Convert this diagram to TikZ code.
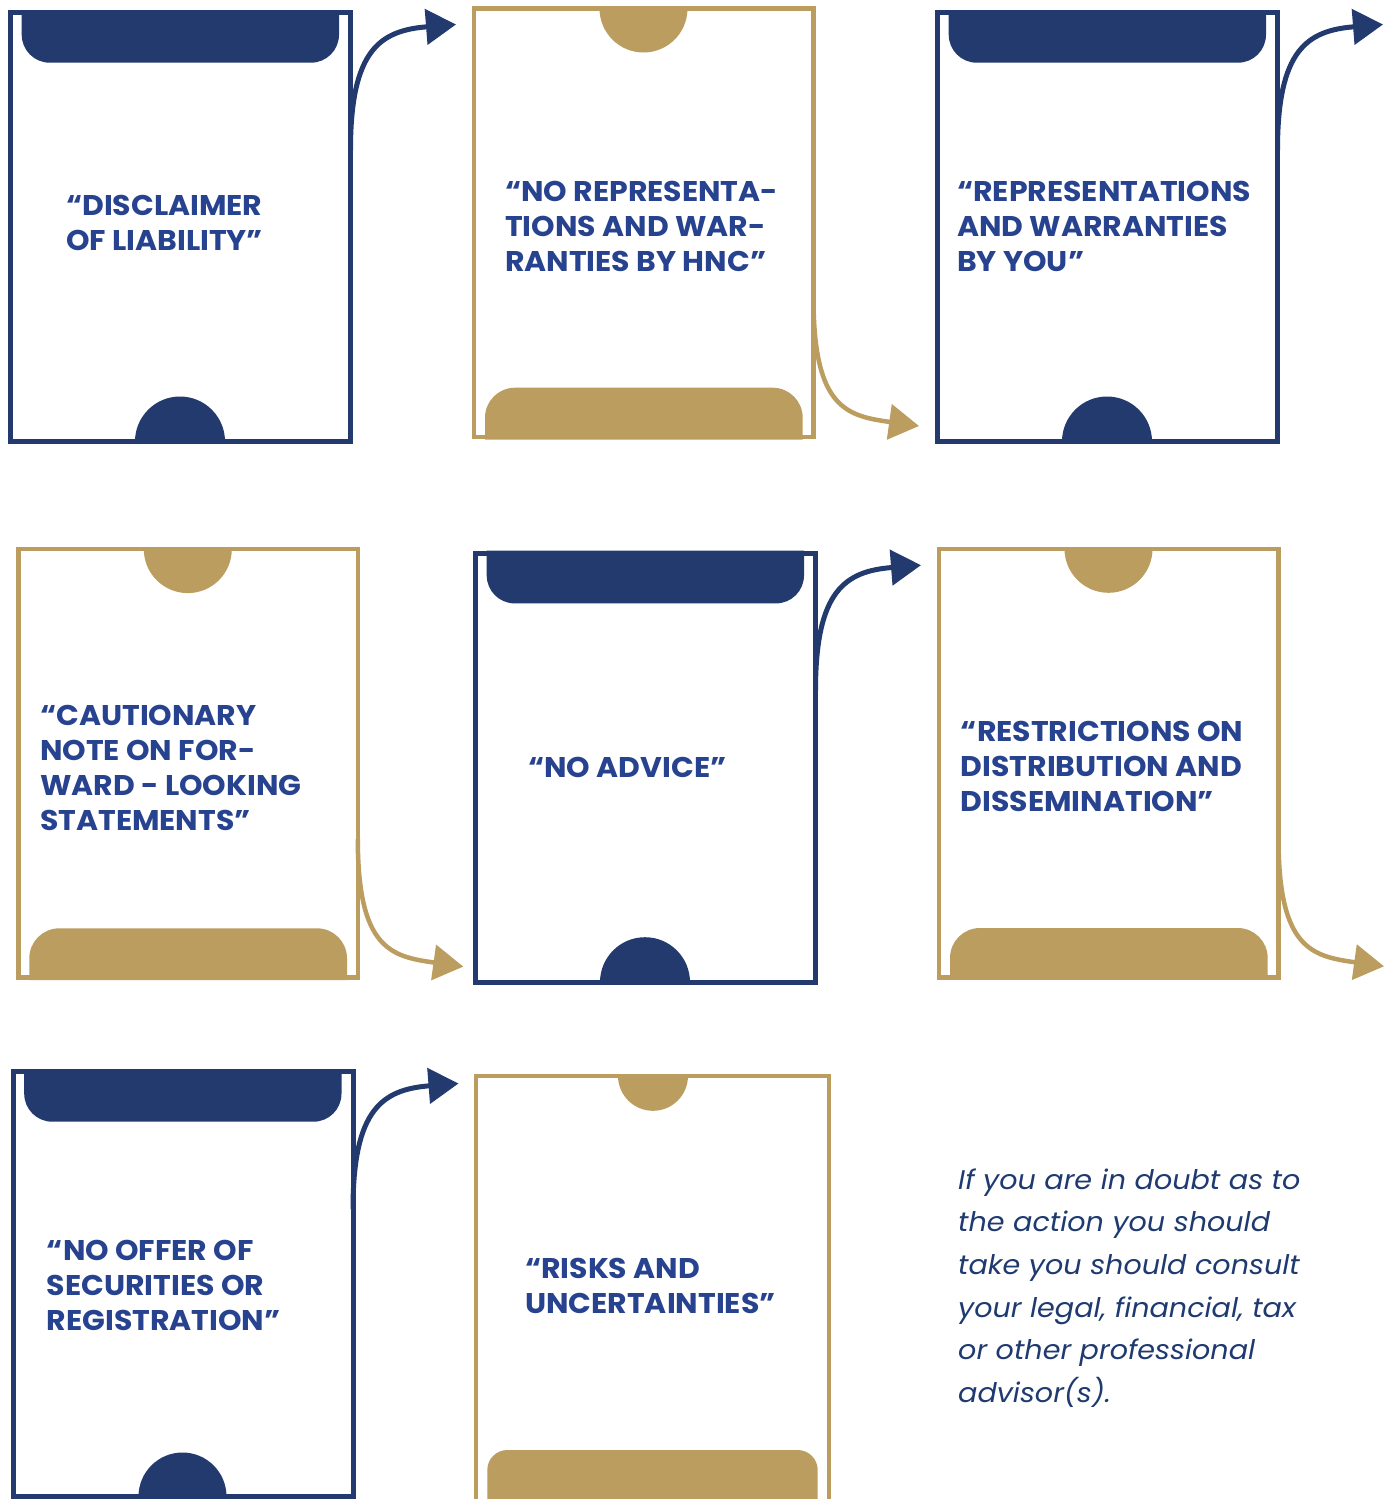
\documentclass[tikz,border=0pt]{standalone}
\usepackage{fontspec}
\setmainfont{Poppins}
\usetikzlibrary{arrows.meta,calc}
\definecolor{navy}{HTML}{233A6F}
\definecolor{gold}{HTML}{BB9E5F}
\definecolor{tblue}{HTML}{27428F}
\definecolor{iblue}{HTML}{1E3A70}
% top bar hanging from top edge, bottom corners rounded: x1,x2,ytop,ybottom,r
\newcommand\topbar[6]{\fill[#1] (#2,#4) -- (#2,#5-#6) arc[start angle=180,end angle=270,radius=#6 pt] -- (#3-#6,#5) arc[start angle=270,end angle=360,radius=#6 pt] -- (#3,#4) -- cycle;}
% bottom bar standing on bottom edge, top corners rounded: x1,x2,ytop,ybottom,r
\newcommand\botbar[6]{\fill[#1] (#2,#5) -- (#2,#4+#6) arc[start angle=180,end angle=90,radius=#6 pt] -- (#3-#6,#4) arc[start angle=90,end angle=0,radius=#6 pt] -- (#3,#5) -- cycle;}
\newcommand\navydeco[2]{%
 \begin{scope}[shift={(#1,#2)}]
  \topbar{navy}{21.7}{339}{10}{62.7}{28}
  \fill[navy] (135,441.5) arc[start angle=180,end angle=0,radius=45pt] -- cycle;
 \end{scope}}
\newcommand\golddeco[2]{%
 \begin{scope}[shift={(#1,#2)}]
  \fill[gold] (599.5,8.5) arc[start angle=180,end angle=360,radius=44pt] -- cycle;
  \botbar{gold}{485}{802.7}{387.7}{439.5}{30}
 \end{scope}}
\tikzset{
  navyc/.style={draw=navy, line width=5pt, minimum width=340pt, minimum height=429pt, inner sep=0pt, outer sep=0pt},
  goldc/.style={draw=gold, line width=4.5pt, minimum width=339.5pt, minimum height=428.5pt, inner sep=0pt, outer sep=0pt},
  ttl/.style={anchor=base west, align=left, text=tblue, inner sep=0pt, font=\fontsize{28.5}{35}\selectfont\bfseries\addfontfeature{FakeStretch=1.05}},
  note/.style={anchor=base west, align=left, text=iblue, inner sep=0pt, font=\fontsize{27}{42.6}\selectfont\itshape\addfontfeature{FakeStretch=1.06}},
  navyarr/.style={draw=navy, line width=5pt, -{Triangle[length=30pt,width=35pt]}},
  goldarr/.style={draw=gold, line width=4.5pt, -{Triangle[length=30pt,width=35pt]}},
}
\begin{document}
\begin{tikzpicture}[x=1pt,y=-1pt]
\useasboundingbox[fill=white] (0,0) rectangle (1391,1499);
% ---- row 1
\node[navyc] (c1) at (180.5,227) {};
\navydeco{0}{0}
\node[goldc] (c2) at (643.75,222.75) {};
\golddeco{0}{0}
\node[navyc] (c3) at (1107.5,227) {};
\navydeco{927}{0}
% ---- row 2
\node[goldc] (c4) at (188.05,763.35) {};
\golddeco{-455.7}{540.6}
\node[navyc] (c5) at (645.5,767.7) {};
\navydeco{465}{540.7}
\node[goldc] (c6) at (1108.75,763.05) {};
\golddeco{465}{540.3}
% ---- row 3
\node[draw=navy, line width=5pt, minimum width=340pt, minimum height=425pt, inner sep=0pt, outer sep=0pt] (c7) at (183,1284) {};
\topbar{navy}{24.2}{341.5}{1069}{1121.7}{28}
\fill[navy] (138.5,1496.5) arc[start angle=180,end angle=0,radius=44pt] -- cycle;
\node[draw=gold, line width=4.5pt, minimum width=353.4pt, minimum height=426.2pt, inner sep=0pt, outer sep=0pt] (c8) at (652.5,1288.9) {};
\fill[gold] (618,1075.8) arc[start angle=180,end angle=360,radius=35pt] -- cycle;
\botbar{gold}{487.3}{817.7}{1450}{1510}{20}
% ---- arrow targets
\coordinate (t1) at (456,24.5);
\coordinate (t2) at (919,426);
\coordinate (t3) at (1383,24.5);
\coordinate (t4) at (463.3,966.6);
\coordinate (t5) at (921,565.2);
\coordinate (t6) at (1384,966.3);
\coordinate (t7) at (458.5,1083.5);
\draw[navyarr] ([yshift=-137.5pt]c1.north east) .. controls +(0,-100) and +(-76,6) .. (t1);
\draw[goldarr] ([yshift=-290pt]c2.north east) .. controls +(0,110) and +(-72,-10) .. (t2);
\draw[navyarr] ([yshift=-137.5pt]c3.north east) .. controls +(0,-100) and +(-76,6) .. (t3);
\draw[goldarr] ([yshift=-290pt]c4.north east) .. controls +(0,110) and +(-72,-10) .. (t4);
\draw[navyarr] ([yshift=-137.5pt]c5.north east) .. controls +(0,-100) and +(-76,6) .. (t5);
\draw[goldarr] ([yshift=-290pt]c6.north east) .. controls +(0,110) and +(-72,-10) .. (t6);
\draw[navyarr] ([yshift=-137.5pt]c7.north east) .. controls +(0,-100) and +(-76,6) .. (t7);
% ---- texts (base = last line's baseline)
\node[ttl] (x1) at (66,250) {“DISCLAIMER\\OF LIABILITY”};
\node[ttl] (x2) at (505,271.7) {“NO REPRESENTA-\\TIONS AND WAR-\\RANTIES BY HNC”};
\node[ttl] (x3) at (957,271) {“REPRESENTATIONS\\AND WARRANTIES\\BY YOU”};
\node[ttl] (x4) at (40,830) {“CAUTIONARY\\NOTE ON FOR-\\WARD - LOOKING\\STATEMENTS”};
\node[ttl] (x5) at (528,777) {“NO ADVICE”};
\node[ttl] (x6) at (960.7,811.7) {“RESTRICTIONS ON\\DISTRIBUTION AND\\DISSEMINATION”};
\node[ttl] (x7) at (46.7,1330) {“NO OFFER OF\\SECURITIES OR\\REGISTRATION”};
\node[ttl] (x8) at (525,1313) {“RISKS AND\\UNCERTAINTIES”};
\node[note] (n1) at (958,1402.3) {If you are in doubt as to\\the action you should\\take you should consult\\your legal, financial, tax\\or other professional\\advisor(s).};
\end{tikzpicture}
\end{document}
